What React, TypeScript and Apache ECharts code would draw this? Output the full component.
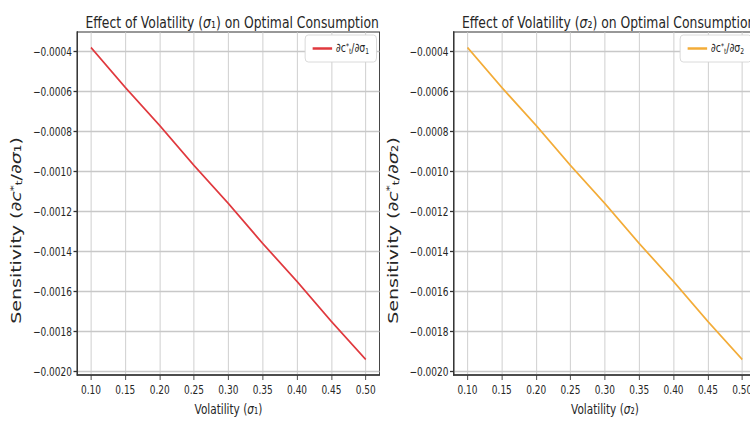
import React, { useEffect, useRef } from 'react';
import * as echarts from 'echarts';

// Volatility values (x) and read-off sensitivities (y)
const sigmaValues = [0.1, 0.15, 0.2, 0.25, 0.3, 0.35, 0.4, 0.45, 0.5];
const sensitivitySigma1 = [-0.00038, -0.00058, -0.00077, -0.00097, -0.00116, -0.00136, -0.00155, -0.00175, -0.00194];
const sensitivitySigma2 = [-0.00038, -0.00058, -0.00077, -0.00097, -0.00116, -0.00136, -0.00155, -0.00175, -0.00194];
const xTickValues = [0.1, 0.15, 0.2, 0.25, 0.3, 0.35, 0.4, 0.45, 0.5];
const yTickValues = [-0.002, -0.0018, -0.0016, -0.0014, -0.0012, -0.001, -0.0008, -0.0006, -0.0004];
const seriesNames = ['dS1', 'dS2'];

const FONT = 'DejaVu Sans';
const TEXT = '#262626';

const richBase = (size: number) => ({
  i: { fontStyle: 'italic', fontSize: size, fontFamily: FONT, color: TEXT },
  sup: { fontSize: Math.round(size * 0.65), fontFamily: FONT, color: TEXT, verticalAlign: 'top', lineHeight: size },
  sub: { fontSize: Math.round(size * 0.65), fontFamily: FONT, color: TEXT, verticalAlign: 'bottom', lineHeight: size },
});

export default function App() {
  const ref = useRef<HTMLDivElement>(null);
  useEffect(() => {
    if (!ref.current) return;
    const chart = echarts.init(ref.current, undefined, { renderer: 'svg' });
    const gridLefts = [103, 605];
    const gridWidth = 403;
    const mkX = (idx: number, sub: string) => ({
      type: 'value',
      gridIndex: idx,
      min: 0.08,
      max: 0.52,
      name: `Volatility ({i|σ}${sub})`,
      nameLocation: 'middle',
      nameGap: 27,
      nameTextStyle: { fontSize: 14, fontFamily: FONT, color: TEXT, rich: richBase(14) },
      axisLine: { show: true, onZero: false, lineStyle: { color: '#333', width: 1.5 } },
      axisTick: { show: true, length: 5, customValues: xTickValues, lineStyle: { color: '#333' } },
      axisLabel: {
        customValues: xTickValues,
        fontSize: 12,
        fontFamily: FONT,
        color: TEXT,
        margin: 8,
        formatter: (v: number) => v.toFixed(2),
      },
      splitLine: { show: true, lineStyle: { color: '#c8c8c8', width: 1 } },
    });
    const mkY = (idx: number, sub: string) => ({
      type: 'value',
      gridIndex: idx,
      min: -0.002018,
      max: -0.000302,
      name: `Sensitivity (∂{i|c}{sup|*}{sub|t}/∂{i|σ}${sub})`,
      nameLocation: 'middle',
      nameGap: 72,
      nameRotate: 90,
      nameTextStyle: { fontSize: 19, fontFamily: FONT, color: TEXT, padding: [0, 54, 0, 0], rich: richBase(19) },
      axisLine: { show: true, onZero: false, lineStyle: { color: '#333', width: 1.8 } },
      axisTick: { show: true, length: 5, customValues: yTickValues, lineStyle: { color: '#333', width: 1.3 } },
      axisLabel: {
        customValues: yTickValues,
        fontSize: 12,
        fontFamily: FONT,
        color: TEXT,
        margin: 7,
        formatter: (v: number) => '−' + Math.abs(v).toFixed(4),
      },
      splitLine: { show: true, lineStyle: { color: '#c8c8c8', width: 1.3 } },
    });
    const legendRich = {
      sup: { fontSize: 8, fontFamily: FONT, color: TEXT, verticalAlign: 'top', lineHeight: 13 },
      sub: { fontSize: 8, fontFamily: FONT, color: TEXT, verticalAlign: 'bottom', lineHeight: 13 },
    };
    const mkLegend = (name: string, right: number, sub: string) => ({
      data: [name],
      top: 35,
      right,
      orient: 'vertical',
      icon: 'rect',
      itemWidth: 26,
      itemHeight: 2.5,
      itemGap: 4,
      padding: [7, 10, 7, 10],
      borderColor: '#d5d5d5',
      borderWidth: 1,
      borderRadius: 4,
      backgroundColor: '#fff',
      textStyle: { fontSize: 12.5, fontFamily: FONT, color: TEXT, rich: legendRich },
      formatter: () => `∂c{sup|*}{sub|t}/∂σ{sub|${sub}}`,
    });
    chart.setOption({
      animation: false,
      backgroundColor: '#fff',
      title: [
        {
          text: 'Effect of Volatility ({i|σ}₁) on Optimal Consumption',
          left: gridLefts[0] + gridWidth / 2,
          textAlign: 'center',
          top: 8,
          textStyle: { fontSize: 16.5, fontWeight: 'normal', fontFamily: FONT, color: TEXT, rich: richBase(16.5) },
        },
        {
          text: 'Effect of Volatility ({i|σ}₂) on Optimal Consumption',
          left: gridLefts[1] + gridWidth / 2,
          textAlign: 'center',
          top: 8,
          textStyle: { fontSize: 16.5, fontWeight: 'normal', fontFamily: FONT, color: TEXT, rich: richBase(16.5) },
        },
      ],
      legend: [mkLegend(seriesNames[0], 518, '1'), mkLegend(seriesNames[1], 18, '2')],
      grid: [
        { left: gridLefts[0], top: 32, width: gridWidth, height: 344, show: true, borderColor: '#333', borderWidth: 1.2, backgroundColor: 'transparent' },
        { left: gridLefts[1], top: 32, width: gridWidth, height: 344, show: true, borderColor: '#333', borderWidth: 1.2, backgroundColor: 'transparent' },
      ],
      xAxis: [mkX(0, '₁'), mkX(1, '₂')],
      yAxis: [mkY(0, '₁'), mkY(1, '₂')],
      series: [
        {
          name: seriesNames[0],
          type: 'line',
          xAxisIndex: 0,
          yAxisIndex: 0,
          showSymbol: false,
          data: sigmaValues.map((x, i) => [x, sensitivitySigma1[i]]),
          lineStyle: { color: '#e0393e', width: 2 },
          itemStyle: { color: '#e0393e' },
        },
        {
          name: seriesNames[1],
          type: 'line',
          xAxisIndex: 1,
          yAxisIndex: 1,
          showSymbol: false,
          data: sigmaValues.map((x, i) => [x, sensitivitySigma2[i]]),
          lineStyle: { color: '#f3ac38', width: 2 },
          itemStyle: { color: '#f3ac38' },
        },
      ],
    });
    return () => chart.dispose();
  }, []);
  return (
    <div style={{ position: 'fixed', left: 0, top: 0, width: 750, height: 421, overflow: 'hidden', background: '#fff' }}>
      <div ref={ref} style={{ width: 1020, height: 421, transform: 'scaleX(0.75)', transformOrigin: '0 0' }} />
    </div>
  );
}
